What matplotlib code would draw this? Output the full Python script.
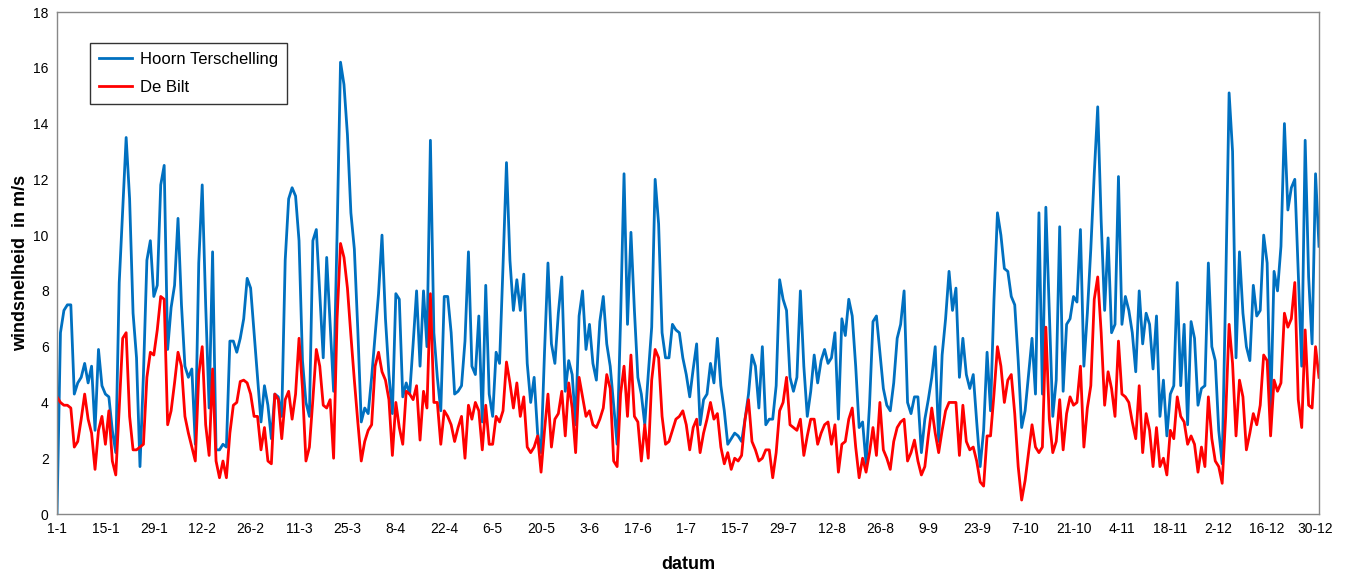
import matplotlib
matplotlib.use("Agg")
import matplotlib.pyplot as plt
import numpy as np

plt.rcParams['font.family'] = ['Liberation Sans', 'DejaVu Sans']

# daily wind speed (m/s), 366 days
hoorn = [
    0, 6.5, 7.3, 7.5, 7.5, 4.3, 4.7, 4.9, 5.4, 4.7,
    5.3, 3.0, 5.9, 4.6, 4.3, 4.2, 3.0, 2.2, 8.3, 10.9,
    13.5, 11.3, 7.2, 5.6, 1.7, 5.0, 9.1, 9.8, 7.8, 8.2,
    11.8, 12.5, 5.9, 7.4, 8.2, 10.6, 7.5, 5.3, 4.9, 5.2,
    2.5, 9.0, 11.8, 7.5, 3.8, 9.4, 2.3, 2.3, 2.5, 2.4,
    6.2, 6.2, 5.8, 6.3, 7.0, 8.45, 8.1, 6.5, 4.9, 3.3,
    4.6, 3.9, 2.7, 4.3, 4.2, 3.5, 9.1, 11.3, 11.7, 11.4,
    9.8, 5.5, 4.0, 3.5, 9.8, 10.2, 7.9, 5.6, 9.2, 6.8,
    4.4, 10.0, 16.2, 15.4, 13.6, 10.8, 9.5, 6.6, 3.3, 3.8,
    3.6, 4.9, 6.4, 7.9, 10.0, 7.0, 5.0, 3.6, 7.9, 7.7,
    4.2, 4.7, 4.3, 6.1, 8.0, 5.3, 8.0, 6.0, 13.4, 6.5,
    4.9, 3.7, 7.8, 7.8, 6.5, 4.3, 4.4, 4.6, 6.2, 9.4,
    5.3, 5.0, 7.1, 3.3, 8.2, 4.3, 3.5, 5.8, 5.4, 8.9,
    12.6, 9.1, 7.3, 8.4, 7.3, 8.6, 5.4, 4.0, 4.9, 2.9,
    2.2, 5.8, 9.0, 6.1, 5.4, 7.2, 8.5, 4.4, 5.5, 5.0,
    3.2, 7.1, 8.0, 5.9, 6.8, 5.4, 4.8, 6.9, 7.8, 6.1,
    5.3, 3.9, 2.5, 7.0, 12.2, 6.8, 10.1, 7.3, 4.9, 4.3,
    3.2, 5.0, 6.7, 12.0, 10.4, 6.5, 5.6, 5.6, 6.8, 6.6,
    6.5, 5.6, 5.0, 4.2, 5.2, 6.1, 3.2, 4.1, 4.3, 5.4,
    4.7, 6.3, 4.6, 3.7, 2.5, 2.7, 2.9, 2.8, 2.6, 3.4,
    4.3, 5.7, 5.3, 3.8, 6.0, 3.2, 3.4, 3.4, 4.6, 8.4,
    7.7, 7.3, 4.9, 4.4, 4.9, 8.0, 5.3, 3.5, 4.4, 5.7,
    4.7, 5.5, 5.9, 5.4, 5.6, 6.5, 3.4, 7.0, 6.4, 7.7,
    7.1, 5.3, 3.1, 3.3, 1.8, 3.9, 6.9, 7.1, 5.8, 4.5,
    3.9, 3.7, 4.7, 6.3, 6.8, 8.0, 4.0, 3.6, 4.2, 4.2,
    2.2, 3.4, 4.1, 4.9, 6.0, 2.6, 5.7, 7.0, 8.7, 7.3,
    8.1, 4.9, 6.3, 5.0, 4.5, 5.0, 3.3, 1.7, 3.0, 5.8,
    3.7, 7.7, 10.8, 10.0, 8.8, 8.7, 7.8, 7.5, 5.5, 3.1,
    3.7, 5.0, 6.3, 4.3, 10.8, 4.3, 11.0, 7.2, 3.5, 4.8,
    10.3, 4.4, 6.8, 7.0, 7.8, 7.6, 10.2, 5.3, 7.2, 9.5,
    12.2, 14.6, 10.5, 7.3, 9.9, 6.5, 6.8, 12.1, 6.8, 7.8,
    7.3, 6.5, 5.1, 8.0, 6.1, 7.2, 6.8, 5.2, 7.1, 3.5,
    4.8, 2.8, 4.3, 4.6, 8.3, 4.6, 6.8, 3.2, 6.9, 6.3,
    3.9, 4.5, 4.6, 9.0, 6.0, 5.5, 3.0, 1.8, 8.0, 15.1,
    13.0, 5.6, 9.4, 7.2, 6.0, 5.5, 8.2, 7.1, 7.3, 10.0,
    9.0, 3.5, 8.7, 8.0, 9.6, 14.0, 10.9, 11.7, 12.0, 8.6,
    5.3, 13.4, 8.5, 6.1, 12.2, 9.6,
]

debilt = [
    4.2, 4.0, 3.9, 3.9, 3.8, 2.4, 2.6, 3.4, 4.3, 3.4,
    2.9, 1.6, 3.0, 3.5, 2.5, 3.7, 1.9, 1.4, 3.8, 6.3,
    6.5, 3.5, 2.3, 2.3, 2.4, 2.5, 4.9, 5.8, 5.7, 6.6,
    7.8, 7.7, 3.2, 3.7, 4.7, 5.8, 5.3, 3.5, 2.9, 2.4,
    1.9, 5.0, 6.0, 3.2, 2.1, 5.2, 1.9, 1.3, 1.9, 1.3,
    2.9, 3.9, 4.0, 4.75, 4.8, 4.7, 4.3, 3.5, 3.5, 2.3,
    3.1, 1.9, 1.8, 4.3, 4.1, 2.7, 4.1, 4.4, 3.4, 4.3,
    6.3, 4.5, 1.9, 2.4, 4.1, 5.9, 5.3, 3.9, 3.8, 4.1,
    2.0, 7.0, 9.7, 9.2, 8.1, 6.4, 4.8, 3.3, 1.9, 2.6,
    3.0, 3.2, 5.3, 5.8, 5.1, 4.8, 4.1, 2.1, 4.0, 3.1,
    2.5, 4.4, 4.3, 4.1, 4.6, 2.65, 4.4, 3.8, 7.9, 4.0,
    4.0, 2.5, 3.7, 3.5, 3.2, 2.6, 3.1, 3.5, 2.0, 3.9,
    3.4, 4.0, 3.7, 2.3, 3.9, 2.5, 2.5, 3.5, 3.3, 3.7,
    5.45, 4.7, 3.8, 4.7, 3.5, 4.2, 2.4, 2.2, 2.4, 2.8,
    1.5, 3.0, 4.3, 2.4, 3.4, 3.6, 4.4, 2.8, 4.7, 3.8,
    2.2, 4.9, 4.2, 3.5, 3.7, 3.2, 3.1, 3.4, 3.8, 5.0,
    4.5, 1.9, 1.7, 4.3, 5.3, 3.5, 5.7, 3.5, 3.3, 1.9,
    3.2, 2.0, 4.8, 5.9, 5.6, 3.5, 2.5, 2.6, 3.0, 3.4,
    3.5, 3.7, 3.2, 2.3, 3.1, 3.4, 2.2, 2.9, 3.4, 4.0,
    3.4, 3.6, 2.4, 1.8, 2.2, 1.6, 2.0, 1.9, 2.1, 3.4,
    4.1, 2.6, 2.3, 1.9, 2.0, 2.3, 2.3, 1.3, 2.2, 3.7,
    4.0, 4.9, 3.2, 3.1, 3.0, 3.4, 2.1, 2.8, 3.4, 3.4,
    2.5, 2.9, 3.2, 3.3, 2.5, 3.2, 1.5, 2.5, 2.6, 3.4,
    3.8, 2.4, 1.3, 2.0, 1.5, 2.2, 3.1, 2.1, 4.0, 2.3,
    2.0, 1.6, 2.6, 3.1, 3.3, 3.4, 1.9, 2.2, 2.65, 1.9,
    1.4, 1.7, 2.8, 3.8, 2.9, 2.2, 3.0, 3.7, 4.0, 4.0,
    4.0, 2.1, 3.9, 2.6, 2.3, 2.4, 1.9, 1.15, 1.0, 2.8,
    2.8, 4.3, 6.0, 5.3, 4.0, 4.8, 5.0, 3.6, 1.7, 0.5,
    1.2, 2.2, 3.2, 2.4, 2.2, 2.4, 6.7, 3.4, 2.2, 2.6,
    4.1, 2.3, 3.6, 4.2, 3.9, 4.0, 5.3, 2.4, 3.8, 4.6,
    7.7, 8.5, 6.5, 3.9, 5.1, 4.5, 3.5, 6.2, 4.3, 4.2,
    4.0, 3.3, 2.7, 4.6, 2.2, 3.6, 3.0, 1.7, 3.1, 1.7,
    2.0, 1.4, 3.0, 2.7, 4.2, 3.5, 3.3, 2.5, 2.8, 2.5,
    1.5, 2.4, 1.7, 4.2, 2.7, 1.9, 1.7, 1.1, 3.5, 6.8,
    5.4, 2.8, 4.8, 4.2, 2.3, 2.9, 3.6, 3.2, 3.9, 5.7,
    5.5, 2.8, 4.8, 4.4, 4.7, 7.2, 6.7, 7.0, 8.3, 4.1,
    3.1, 6.6, 3.9, 3.8, 6.0, 4.9,
]

tick_labels = ['1-1', '15-1', '29-1', '12-2', '26-2', '11-3', '25-3', '8-4',
               '22-4', '6-5', '20-5', '3-6', '17-6', '1-7', '15-7', '29-7',
               '12-8', '26-8', '9-9', '23-9', '7-10', '21-10', '4-11', '18-11',
               '2-12', '16-12', '30-12']

assert len(hoorn) == 366 and len(debilt) == 366, (len(hoorn), len(debilt))

W, H = 1347, 575
fig = plt.figure(figsize=(W / 100, H / 100), dpi=100)
ax = fig.add_axes([57 / W, 1 - 514 / H, (1319 - 57) / W, (514 - 12) / H])

x = np.arange(len(hoorn))
ax.plot(x, hoorn, color='#0070C0', lw=2.0, label='Hoorn Terschelling', solid_joinstyle='round')
ax.plot(x, debilt, color='#FF0000', lw=2.0, label='De Bilt', solid_joinstyle='round')

ax.set_xlim(0, 365)
ax.set_ylim(0, 18)
ax.set_xticks(np.arange(0, 14 * len(tick_labels), 14))
ax.set_xticklabels(tick_labels)
ax.set_yticks(np.arange(0, 19, 2))
ax.tick_params(axis='both', labelsize=10, length=0, pad=6, colors='black')

for sp in ax.spines.values():
    sp.set_color('#888888')
    sp.set_linewidth(1.0)

ax.set_xlabel('datum', fontsize=13, fontweight='bold', labelpad=14)
ax.set_ylabel('windsnelheid  in m/s', fontsize=13, fontweight='bold')
ax.yaxis.set_label_coords(-0.022, 0.5)

leg = ax.legend(loc='upper left', bbox_to_anchor=(0.026, 0.938), fontsize=12,
                frameon=True, fancybox=False, edgecolor='black',
                handlelength=2.0, handletextpad=0.45, borderpad=0.55,
                labelspacing=0.75, borderaxespad=0)
leg.get_frame().set_linewidth(1.0)

fig.savefig('out.png', dpi=100, facecolor='white')
